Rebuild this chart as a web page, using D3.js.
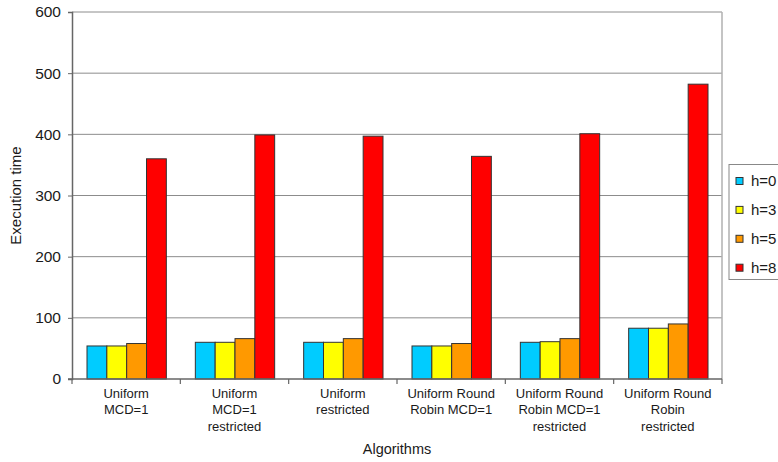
<!DOCTYPE html>
<html>
<head>
<meta charset="utf-8">
<script src="https://cdn.jsdelivr.net/npm/d3@7"></script>
<style>
  html, body { margin: 0; padding: 0; background: #fff; }
  svg { display: block; font-family: "Liberation Sans", Arial, Helvetica, sans-serif; }
</style>
</head>
<body>
<svg id="chart" width="778" height="462"></svg>
<script>
// Execution time per algorithm, one series per h value
const categories = [
  ["Uniform", "MCD=1"],
  ["Uniform", "MCD=1", "restricted"],
  ["Uniform", "restricted"],
  ["Uniform Round", "Robin MCD=1"],
  ["Uniform Round", "Robin MCD=1", "restricted"],
  ["Uniform Round", "Robin", "restricted"]
];
const seriesNames = ["h=0", "h=3", "h=5", "h=8"];
const h0 = [54, 60, 60, 54, 60, 83];
const h3 = [54, 60, 60, 54, 61, 83];
const h5 = [58, 66, 66, 58, 66, 90];
const h8 = [360, 399, 397, 364, 401, 482];
const yTicks = [0, 100, 200, 300, 400, 500, 600];
const seriesColors = ["#00ccff", "#ffff00", "#ff9900", "#ff0000"];

const seriesValues = [h0, h3, h5, h8];
const catKeys = categories.map(c => c.join(" "));

const svg = d3.select("#chart");
const plotL = 72, plotR = 722, plotT = 12, plotB = 379;

const x0 = d3.scaleBand().domain(catKeys).range([plotL, plotR]).padding(0);
const x1 = d3.scaleBand().domain(seriesNames).range([15, x0.bandwidth() - 14]).padding(0);
const y = d3.scaleLinear().domain([0, 600]).range([plotB, plotT]);

// horizontal gridlines
svg.append("g")
  .selectAll("line")
  .data(yTicks.filter(t => t > 0))
  .join("line")
  .attr("x1", plotL).attr("x2", plotR)
  .attr("y1", d => y(d)).attr("y2", d => y(d))
  .attr("stroke", "#8c8c8c").attr("stroke-width", 1);

// right border of the plot area
svg.append("line")
  .attr("x1", plotR).attr("x2", plotR)
  .attr("y1", plotT).attr("y2", plotB)
  .attr("stroke", "#b0b0b0").attr("stroke-width", 1.5);

// bars
const groups = svg.append("g")
  .selectAll("g")
  .data(catKeys)
  .join("g")
  .attr("transform", d => `translate(${x0(d)},0)`);

groups.selectAll("rect")
  .data((d, i) => seriesNames.map((s, j) => ({ s, v: seriesValues[j][i], c: seriesColors[j] })))
  .join("rect")
  .attr("x", d => x1(d.s))
  .attr("y", d => y(d.v))
  .attr("width", x1.bandwidth())
  .attr("height", d => y(0) - y(d.v))
  .attr("fill", d => d.c)
  .attr("stroke", "#333")
  .attr("stroke-width", 1);

// y axis
const yAxis = svg.append("g")
  .attr("transform", `translate(${plotL},0)`)
  .call(d3.axisLeft(y).tickValues(yTicks).tickSize(4).tickPadding(7));
yAxis.select(".domain").attr("stroke", "#666").attr("stroke-width", 1.5);
yAxis.selectAll(".tick line").attr("stroke", "#666");
yAxis.selectAll(".tick text")
  .attr("font-size", "15.5px")
  .attr("fill", "#1a1a1a")
  .attr("font-family", "Liberation Sans, Arial, sans-serif");

// x axis line and category boundary ticks
svg.append("line")
  .attr("x1", plotL - 4).attr("x2", plotR)
  .attr("y1", plotB).attr("y2", plotB)
  .attr("stroke", "#666").attr("stroke-width", 1.5);
const bounds = catKeys.map(k => x0(k)).concat([x0.range()[1]]);
svg.append("g")
  .selectAll("line")
  .data(bounds)
  .join("line")
  .attr("x1", d => d).attr("x2", d => d)
  .attr("y1", plotB).attr("y2", plotB + 5)
  .attr("stroke", "#666").attr("stroke-width", 1.2);

// category labels
const labels = svg.append("g")
  .selectAll("text")
  .data(categories)
  .join("text")
  .attr("x", (d, i) => x0(catKeys[i]) + x0.bandwidth() / 2)
  .attr("y", 398)
  .attr("text-anchor", "middle")
  .attr("font-size", "13px")
  .attr("fill", "#1a1a1a");
labels.selectAll("tspan")
  .data(d => d)
  .join("tspan")
  .attr("x", function () { return d3.select(this.parentNode).attr("x"); })
  .attr("dy", (d, i) => i === 0 ? 0 : 16.3)
  .text(d => d);

// axis titles
svg.append("text")
  .attr("x", (plotL + plotR) / 2)
  .attr("y", 454)
  .attr("text-anchor", "middle")
  .attr("font-size", "14.5px")
  .attr("fill", "#1a1a1a")
  .text("Algorithms");

svg.append("text")
  .attr("transform", `translate(21,${(plotT + plotB) / 2}) rotate(-90)`)
  .attr("text-anchor", "middle")
  .attr("font-size", "15px")
  .attr("fill", "#1a1a1a")
  .text("Execution time");

// legend
const legend = svg.append("g");
legend.append("rect")
  .attr("x", 729).attr("y", 164.5)
  .attr("width", 60).attr("height", 115)
  .attr("fill", "#fff")
  .attr("stroke", "#888").attr("stroke-width", 1);
const items = legend.selectAll("g.item")
  .data(seriesNames)
  .join("g")
  .attr("class", "item")
  .attr("transform", (d, i) => `translate(736,${181 + i * 28.9})`);
items.append("rect")
  .attr("x", 0).attr("y", -3.5)
  .attr("width", 7).attr("height", 7)
  .attr("fill", (d, i) => seriesColors[i])
  .attr("stroke", "#333").attr("stroke-width", 1);
items.append("text")
  .attr("x", 15).attr("y", 0)
  .attr("dy", "0.36em")
  .attr("font-size", "15px")
  .attr("fill", "#1a1a1a")
  .text(d => d);
</script>
</body>
</html>
